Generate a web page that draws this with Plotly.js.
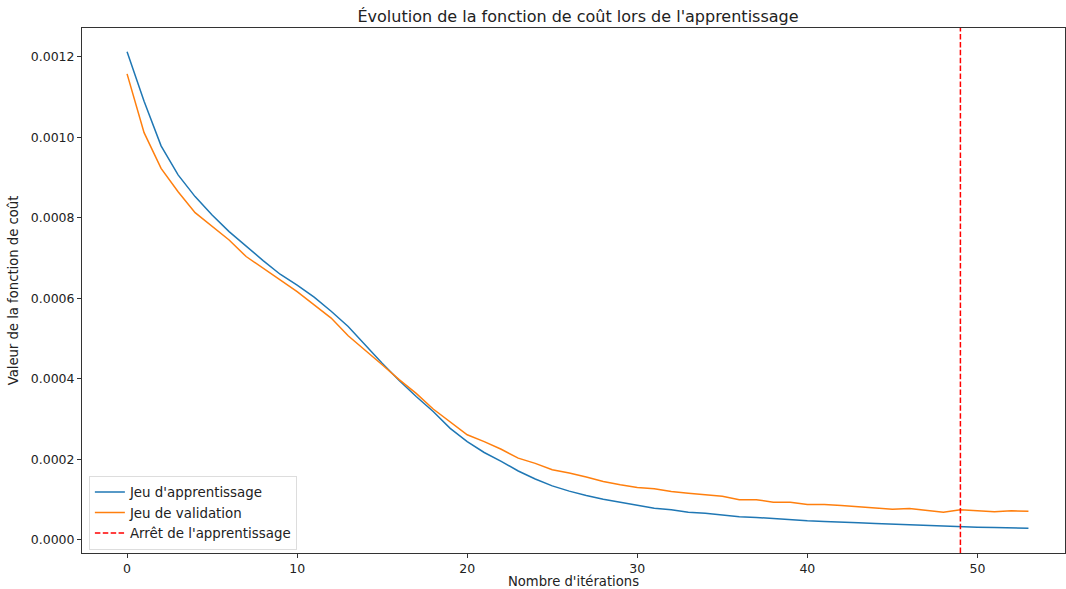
<!DOCTYPE html>
<html>
<head>
<meta charset="utf-8">
<script src="https://cdn.plot.ly/plotly-3.0.1.min.js"></script>
<style>html,body{margin:0;padding:0;overflow:hidden;background:#fff;}#chart{width:1066px;height:589px;}</style>
</head>
<body>
<div id="chart"></div>
<script>
const iterations = Array.from({length: 54}, (_, i) => i);
const trainLoss = [0.001213, 0.00109, 0.000979, 0.000907, 0.000853, 0.000807, 0.000766, 0.000729, 0.000694, 0.000660,
  0.000633, 0.000603, 0.000568, 0.000530, 0.000484, 0.000439, 0.000396, 0.000356, 0.000319, 0.000277,
  0.000244, 0.000217, 0.000195, 0.000171, 0.000151, 0.000134, 0.000121, 0.000110, 0.000101, 0.0000936,
  0.0000862, 0.0000787, 0.0000745, 0.0000687, 0.0000662, 0.0000613, 0.0000571, 0.0000555, 0.0000522, 0.0000489,
  0.0000472, 0.0000456, 0.0000430, 0.0000422, 0.0000406, 0.0000389, 0.0000373, 0.0000348, 0.0000331, 0.0000315,
  0.0000315, 0.0000307, 0.0000298, 0.0000290];
const valLoss = [0.001158, 0.001012, 0.000923, 0.000865, 0.000813, 0.000778, 0.000745, 0.000704, 0.000675, 0.000646,
  0.000617, 0.000584, 0.000551, 0.000507, 0.000472, 0.000435, 0.000398, 0.000364, 0.000325, 0.000294,
  0.000261, 0.000244, 0.000225, 0.000203, 0.000190, 0.000174, 0.000166, 0.000156, 0.000145, 0.000137,
  0.000130, 0.000127, 0.000120, 0.000116, 0.000112, 0.000108, 0.0000994, 0.0000994, 0.0000936, 0.0000936,
  0.0000877, 0.0000877, 0.0000853, 0.0000820, 0.0000803, 0.0000762, 0.0000778, 0.0000729, 0.0000687, 0.0000745,
  0.0000729, 0.0000696, 0.0000720, 0.0000712];
const stopIteration = 49;
const seriesNames = ["Jeu d'apprentissage", "Jeu de validation", "Arrêt de l'apprentissage"];
const yTicks = [0, 0.0002, 0.0004, 0.0006, 0.0008, 0.0010, 0.0012];
const xTicks = [0, 10, 20, 30, 40, 50];

const font = 'DejaVu Sans, sans-serif';
const traces = [
  {x: iterations, y: trainLoss, type: 'scatter', mode: 'lines', name: seriesNames[0],
   line: {color: '#1f77b4', width: 1.5}},
  {x: iterations, y: valLoss, type: 'scatter', mode: 'lines', name: seriesNames[1],
   line: {color: '#ff7f0e', width: 1.5}},
  {x: [stopIteration, stopIteration], y: [0, 1], yaxis: 'y2', type: 'scatter', mode: 'lines', name: seriesNames[2],
   line: {color: 'red', width: 1.5, dash: '5.5px,2.4px'}}
];
const axisCommon = {
  showline: true, linecolor: '#333', linewidth: 1, mirror: true, showgrid: false, zeroline: false,
  ticks: 'outside', ticklen: 4, tickcolor: '#333', tickwidth: 1,
  tickfont: {family: font, size: 12.5, color: '#222'}
};
const layout = {
  width: 1066, height: 589,
  margin: {l: 82, r: 1, t: 28, b: 36},
  paper_bgcolor: '#fff', plot_bgcolor: '#fff',
  font: {family: font, color: '#222'},
  title: {text: "Évolution de la fonction de coût lors de l'apprentissage", font: {family: font, size: 16, color: '#222'},
          xref: 'paper', x: 0.5046, xanchor: 'center', yref: 'container', y: 0.972, yanchor: 'middle'},
  xaxis: Object.assign({}, axisCommon, {range: [-2.65, 55.15], tickvals: xTicks,
          title: {text: "Nombre d'itérations", font: {family: font, size: 13.2, color: '#222'}, standoff: 6}}),
  yaxis: Object.assign({}, axisCommon, {range: [-0.0000328, 0.001272], tickvals: yTicks, tickformat: '.4f',
          title: {text: 'Valeur de la fonction de coût', font: {family: font, size: 13.2, color: '#222'}, standoff: 9}}),
  yaxis2: {overlaying: 'y', range: [0, 1], visible: false, fixedrange: true},
  showlegend: true,
  legend: {x: 0.007, y: 0.006, xanchor: 'left', yanchor: 'bottom', bgcolor: 'rgba(255,255,255,0.85)',
           bordercolor: '#ddd', borderwidth: 1, font: {family: font, size: 13.4, color: '#222'},
           tracegroupgap: 0, itemwidth: 30}
};
Plotly.newPlot('chart', traces, layout, {displayModeBar: false, staticPlot: true});
</script>
</body>
</html>
